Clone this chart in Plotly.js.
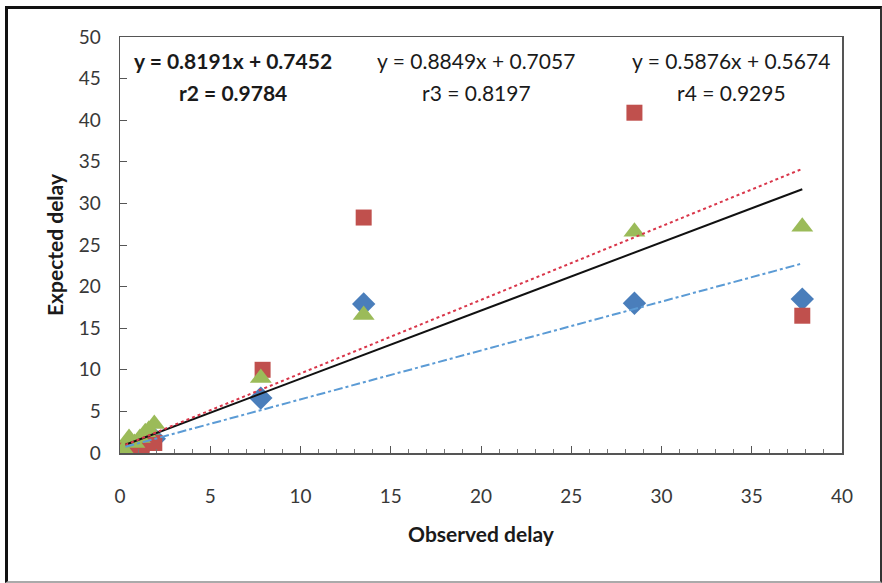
<!DOCTYPE html>
<html>
<head>
<meta charset="utf-8">
<script src="https://cdn.plot.ly/plotly-3.0.1.min.js"></script>
<style>
  html, body { margin: 0; padding: 0; background: #fff; }
  #wrap { position: relative; width: 882px; height: 583px; }
  #chart { width: 882px; height: 583px; }
  #frame { position: absolute; left: 5px; top: 6px; width: 872px; height: 572px;
           border-left: 3px solid #111; border-top: 3px solid #111;
           border-right: 2px solid #333; border-bottom: 2px solid #aaa; pointer-events: none; }
</style>
</head>
<body>
<div id="wrap">
  <div id="chart"></div>
  <div id="frame"></div>
</div>
<script>
// Blue diamonds
const blueX = [0.2, 0.5, 1.0, 1.5, 1.9, 7.8, 13.5, 28.5, 37.8];
const blueY = [0.2, 0.5, 0.9, 1.3, 1.7, 6.6, 17.9, 18.0, 18.5];
// Red squares
const redX = [0.1, 0.3, 0.6, 1.2, 1.9, 7.9, 13.5, 28.5, 37.8];
const redY = [0.3, 0.6, 0.4, 0.8, 1.2, 10.0, 28.3, 40.9, 16.5];
// Green triangles
const greenX = [0.2, 0.5, 0.8, 1.1, 1.4, 1.6, 1.9, 7.8, 13.5, 28.5, 37.8];
const greenY = [0.4, 1.8, 1.2, 1.8, 2.5, 2.8, 3.5, 9.0, 16.6, 26.6, 27.2];

// Trend line equations shown on the chart
const trendNames = ["all", "r3", "r4"];
const slopes = [0.8191, 0.8849, 0.5876];
const intercepts = [0.7452, 0.7057, 0.5674];
const trendRange = [0.3, 37.8];

const eqText = ["y = 0.8191x + 0.7452", "y = 0.8849x + 0.7057", "y = 0.5876x + 0.5674"];
const rText = ["r2 = 0.9784", "r3 = 0.8197", "r4 = 0.9295"];

const font = "Lato, 'Open Sans', 'Liberation Sans', sans-serif";

function trend(i) {
  return trendRange.map(x => slopes[i] * x + intercepts[i]);
}

const traces = [
  { x: blueX, y: blueY, mode: 'markers', type: 'scatter',
    marker: { symbol: 'diamond', size: 18, color: '#4A7EBB' } },
  { x: redX, y: redY, mode: 'markers', type: 'scatter',
    marker: { symbol: 'square', size: 16, color: '#C0504D' } },
  { x: greenX, y: greenY, mode: 'markers', type: 'scatter',
    marker: { symbol: 'triangle-up', size: 19, color: '#9BBB59' } },
  { x: trendRange, y: trend(0), mode: 'lines', type: 'scatter',
    line: { color: '#111111', width: 2, dash: 'solid' } },
  { x: trendRange, y: trend(1), mode: 'lines', type: 'scatter',
    line: { color: '#D9364A', width: 2, dash: 'dot' } },
  { x: trendRange, y: trend(2), mode: 'lines', type: 'scatter',
    line: { color: '#5B9BD5', width: 2, dash: 'dashdot' } }
];

const annX = [233, 476, 731];
const annotations = [];
for (let i = 0; i < 3; i++) {
  const bold = i === 0;
  annotations.push({
    xref: 'paper', yref: 'paper', showarrow: false,
    x: (annX[i] - 120) / 722, y: (453 - 60) / 416,
    xanchor: 'center', yanchor: 'middle',
    text: bold ? '<b>' + eqText[i] + '</b>' : eqText[i],
    font: { family: font, size: 21, color: '#1a1a1a' }
  });
  annotations.push({
    xref: 'paper', yref: 'paper', showarrow: false,
    x: (annX[i] - 120) / 722, y: (453 - 93) / 416,
    xanchor: 'center', yanchor: 'middle',
    text: bold ? '<b>' + rText[i] + '</b>' : rText[i],
    font: { family: font, size: 21, color: '#1a1a1a' }
  });
}

const layout = {
  width: 882, height: 583,
  margin: { l: 120, r: 40, t: 37, b: 130 },
  paper_bgcolor: '#ffffff', plot_bgcolor: '#ffffff',
  showlegend: false,
  font: { family: font, color: '#333333' },
  xaxis: {
    range: [0, 40], tick0: 0, dtick: 5, showgrid: false, zeroline: false,
    showline: true, linecolor: '#555555', linewidth: 1.5, mirror: true,
    ticks: 'inside', ticklen: 7, tickcolor: '#555555',
    minor: { ticks: 'inside', dtick: 1, ticklen: 4, tickcolor: '#777777', showgrid: false },
    tickfont: { family: font, size: 19, color: '#383838' },
    ticklabelstandoff: 26,
    title: { text: '<b>Observed delay</b>', font: { family: font, size: 21, color: '#1a1a1a' }, standoff: 21 }
  },
  yaxis: {
    range: [0, 50], tick0: 0, dtick: 5, showgrid: false, zeroline: false,
    showline: true, linecolor: '#555555', linewidth: 1.5, mirror: true,
    ticks: 'inside', ticklen: 7, tickcolor: '#555555',
    tickfont: { family: font, size: 19, color: '#383838' },
    ticklabelstandoff: 14,
    title: { text: '<b>Expected delay</b>', font: { family: font, size: 21, color: '#1a1a1a' }, standoff: 9 }
  },
  annotations: annotations
};

Plotly.newPlot('chart', traces, layout, { displayModeBar: false, staticPlot: true });
</script>
</body>
</html>
